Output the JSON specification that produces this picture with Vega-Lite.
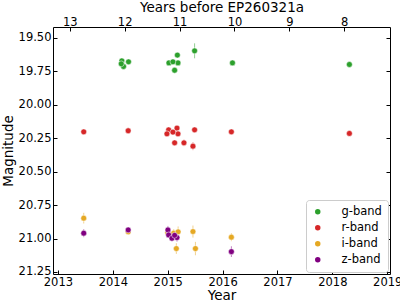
{
  "$schema": "https://vega.github.io/schema/vega-lite/v6.json",
  "autosize": "none",
  "width": 337,
  "height": 247,
  "padding": {"left": 53, "top": 27, "right": 10, "bottom": 31},
  "background": "white",
  "config": {
    "font": "DejaVu Sans",
    "view": {"stroke": "black", "strokeWidth": 1},
    "axis": {
      "grid": false,
      "domain": false,
      "tickColor": "black",
      "tickSize": -4,
      "labelColor": "black",
      "labelFontSize": 11.5,
      "labelFont": "DejaVu Sans",
      "titleFont": "DejaVu Sans",
      "titleFontSize": 13.5,
      "titleFontWeight": "normal",
      "titleColor": "black"
    },
    "legend": {
      "labelFont": "DejaVu Sans",
      "labelFontSize": 11.5,
      "labelColor": "black"
    }
  },
  "data": {
    "values": [
      {"year": 2014.164, "mag": 19.673, "err": 0.01, "band": "g-band"},
      {"year": 2014.286, "mag": 19.680, "err": 0.01, "band": "g-band"},
      {"year": 2014.195, "mag": 19.715, "err": 0.01, "band": "g-band"},
      {"year": 2014.153, "mag": 19.695, "err": 0.01, "band": "g-band"},
      {"year": 2015.176, "mag": 19.630, "err": 0.01, "band": "g-band"},
      {"year": 2015.187, "mag": 19.688, "err": 0.01, "band": "g-band"},
      {"year": 2015.126, "mag": 19.743, "err": 0.01, "band": "g-band"},
      {"year": 2015.022, "mag": 19.688, "err": 0.01, "band": "g-band"},
      {"year": 2015.095, "mag": 19.680, "err": 0.015, "band": "g-band"},
      {"year": 2015.490, "mag": 19.598, "err": 0.056, "band": "g-band"},
      {"year": 2016.180, "mag": 19.688, "err": 0.01, "band": "g-band"},
      {"year": 2018.310, "mag": 19.700, "err": 0.01, "band": "g-band"},
      {"year": 2013.470, "mag": 20.203, "err": 0.01, "band": "r-band"},
      {"year": 2014.280, "mag": 20.195, "err": 0.01, "band": "r-band"},
      {"year": 2015.017, "mag": 20.188, "err": 0.01, "band": "r-band"},
      {"year": 2015.169, "mag": 20.175, "err": 0.01, "band": "r-band"},
      {"year": 2014.986, "mag": 20.218, "err": 0.01, "band": "r-band"},
      {"year": 2015.187, "mag": 20.218, "err": 0.01, "band": "r-band"},
      {"year": 2015.095, "mag": 20.205, "err": 0.01, "band": "r-band"},
      {"year": 2015.490, "mag": 20.188, "err": 0.015, "band": "r-band"},
      {"year": 2015.126, "mag": 20.285, "err": 0.02, "band": "r-band"},
      {"year": 2015.296, "mag": 20.285, "err": 0.025, "band": "r-band"},
      {"year": 2015.460, "mag": 20.310, "err": 0.03, "band": "r-band"},
      {"year": 2016.160, "mag": 20.203, "err": 0.01, "band": "r-band"},
      {"year": 2018.310, "mag": 20.215, "err": 0.01, "band": "r-band"},
      {"year": 2013.470, "mag": 20.848, "err": 0.04, "band": "i-band"},
      {"year": 2014.280, "mag": 20.950, "err": 0.015, "band": "i-band"},
      {"year": 2015.000, "mag": 20.955, "err": 0.03, "band": "i-band"},
      {"year": 2015.110, "mag": 20.960, "err": 0.03, "band": "i-band"},
      {"year": 2015.190, "mag": 20.950, "err": 0.04, "band": "i-band"},
      {"year": 2015.157, "mag": 21.075, "err": 0.04, "band": "i-band"},
      {"year": 2015.460, "mag": 20.948, "err": 0.045, "band": "i-band"},
      {"year": 2015.505, "mag": 21.075, "err": 0.05, "band": "i-band"},
      {"year": 2016.160, "mag": 20.990, "err": 0.03, "band": "i-band"},
      {"year": 2013.470, "mag": 20.960, "err": 0.03, "band": "z-band"},
      {"year": 2014.280, "mag": 20.936, "err": 0.01, "band": "z-band"},
      {"year": 2015.004, "mag": 20.936, "err": 0.03, "band": "z-band"},
      {"year": 2015.017, "mag": 20.973, "err": 0.02, "band": "z-band"},
      {"year": 2015.077, "mag": 20.998, "err": 0.02, "band": "z-band"},
      {"year": 2015.169, "mag": 20.993, "err": 0.03, "band": "z-band"},
      {"year": 2015.126, "mag": 20.976, "err": 0.02, "band": "z-band"},
      {"year": 2016.160, "mag": 21.098, "err": 0.04, "band": "z-band"}
    ]
  },
  "layer": [
    {
      "mark": {"type": "errorbar", "ticks": false, "opacity": 0.5, "thickness": 1},
      "encoding": {
        "x": {
          "field": "year", "type": "quantitative",
          "scale": {"domain": [2012.91, 2019.05], "nice": false, "zero": false},
          "axis": {"orient": "bottom", "title": "Year", "values": [2013, 2014, 2015, 2016, 2017, 2018, 2019],
                   "format": "d", "labelPadding": 6, "titlePadding": 1}
        },
        "y": {
          "field": "mag", "type": "quantitative",
          "scale": {"domain": [19.42, 21.265], "reverse": true, "nice": false, "zero": false},
          "axis": {"orient": "left", "title": "Magnitude", "values": [19.5, 19.75, 20.0, 20.25, 20.5, 20.75, 21.0, 21.25],
                   "format": ".2f", "labelPadding": 6, "titlePadding": 3}
        },
        "yError": {"field": "err"},
        "color": {
          "field": "band", "type": "nominal",
          "scale": {"domain": ["g-band", "r-band", "i-band", "z-band"],
                    "range": ["#2ca02c", "#d62728", "#e5a823", "#800080"]},
          "legend": null
        }
      }
    },
    {
      "mark": {"type": "circle", "size": 34, "opacity": 1, "stroke": "white", "strokeWidth": 0.5},
      "encoding": {
        "x": {
          "field": "year", "type": "quantitative",
          "axis": {"orient": "top", "title": "Years before EP260321a",
                   "values": [2013.216, 2014.216, 2015.216, 2016.216, 2017.216, 2018.216],
                   "labelExpr": "format(round(2026.216 - datum.value), 'd')",
                   "labelPadding": 4, "titlePadding": 2}
        },
        "y": {
          "field": "mag", "type": "quantitative",
          "axis": {"orient": "right", "title": null, "labels": false,
                   "values": [19.5, 19.75, 20.0, 20.25, 20.5, 20.75, 21.0, 21.25]}
        },
        "color": {
          "field": "band", "type": "nominal",
          "legend": {
            "title": null, "orient": "bottom-right", "offset": 2,
            "padding": 6, "fillColor": "white", "strokeColor": "#cccccc",
            "cornerRadius": 3, "symbolType": "circle", "symbolSize": 30,
            "symbolStrokeWidth": 0, "labelOffset": 18, "rowPadding": 3
          }
        }
      }
    }
  ],
  "resolve": {
    "axis": {"x": "independent", "y": "independent"},
    "legend": {"color": "independent"}
  }
}
